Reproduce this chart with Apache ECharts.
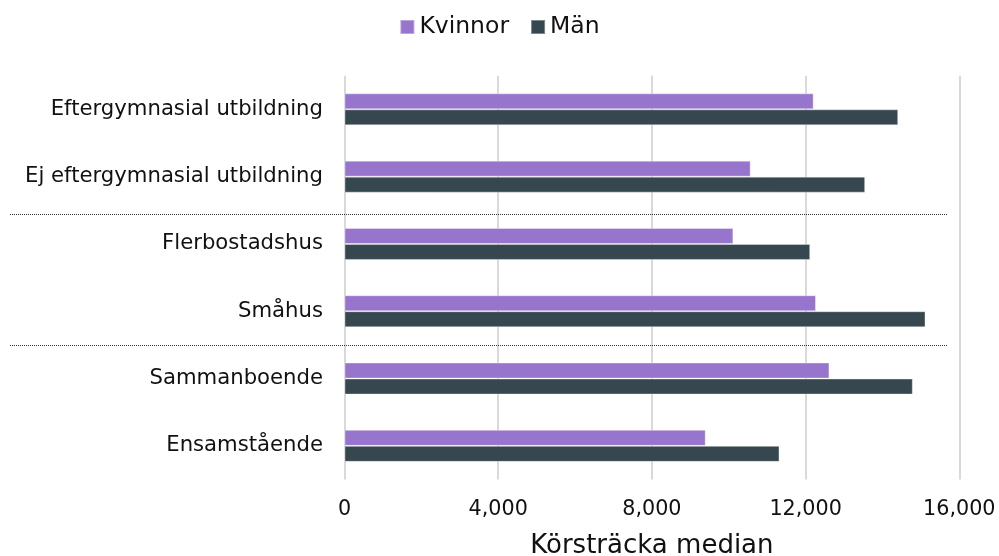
<!DOCTYPE html>
<html>
<head>
<meta charset="utf-8">
<script src="https://cdn.jsdelivr.net/npm/echarts@6/dist/echarts.min.js"></script>
<style>html,body{margin:0;padding:0;background:#fff;}#c{width:999px;height:556px;}</style>
</head>
<body>
<div id="c"></div>
<script>
const categories = ["Eftergymnasial utbildning", "Ej eftergymnasial utbildning", "Flerbostadshus", "Småhus", "Sammanboende", "Ensamstående"];
const kvinnor = [12210, 10570, 10120, 12270, 12620, 9400];
const man = [14410, 13550, 12120, 15120, 14790, 11320];
const seriesNames = ["Kvinnor", "Män"];
const xTicks = [0, 4000, 8000, 12000, 16000];
const axisName = "Körsträcka median";
const groupBreaks = [1, 3]; // separator after these category indices

const FONT = "DejaVu Sans, Verdana, sans-serif";
const chart = echarts.init(document.getElementById('c'), null, {renderer: 'canvas'});
const fmt = v => String(v).replace(/\B(?=(\d{3})+(?!\d))/g, ',');
chart.setOption({
  animation: false,
  textStyle: {fontFamily: FONT},
  legend: {
    top: 10, left: 'center',
    itemWidth: 14, itemHeight: 14, itemGap: 21,
    icon: 'rect',
    textStyle: {fontSize: 23.5, color: '#111', fontFamily: FONT},
    data: seriesNames
  },
  grid: {left: 344.5, right: 39.7, top: 75.7, bottom: 76.5, containLabel: false, outerBoundsMode: 'none'},
  xAxis: {
    type: 'value', min: xTicks[0], max: xTicks[xTicks.length-1], interval: 4000,
    axisLine: {show: false}, axisTick: {show: false},
    splitLine: {show: true, lineStyle: {color: '#d9d9d9', width: 2}},
    axisLabel: {fontSize: 20.7, color: '#111', margin: 19.5, formatter: fmt, fontFamily: FONT},
    name: axisName, nameLocation: 'middle', nameGap: 54,
    nameTextStyle: {fontSize: 26, color: '#111', fontFamily: FONT}
  },
  yAxis: {
    type: 'category', data: categories, inverse: true,
    axisLine: {show: false}, axisTick: {show: false},
    axisLabel: {fontSize: 21.2, color: '#111', margin: 21.5, fontFamily: FONT}
  },
  series: [
    {name: seriesNames[0], type: 'bar', data: kvinnor, barWidth: 16, barGap: '0%',
     itemStyle: {color: '#9775cc', borderColor: 'rgba(255,255,255,0.35)', borderWidth: 1}},
    {name: seriesNames[1], type: 'bar', data: man, barWidth: 16, barGap: '0%',
     itemStyle: {color: '#36474f', borderColor: 'rgba(255,255,255,0.35)', borderWidth: 1}}
  ]
});
// separator dotted lines between category groups
const c0 = chart.convertToPixel({yAxisIndex: 0}, categories[0]);
const c1 = chart.convertToPixel({yAxisIndex: 0}, categories[1]);
const band = c1 - c0;
const lines = groupBreaks.map((idx, i) => {
  const y = Math.round(chart.convertToPixel({yAxisIndex: 0}, categories[idx]) + band / 2 + (i === 0 ? 4 : 0)) + 0.5;
  return {type: 'line', shape: {x1: 10, y1: y, x2: 948, y2: y},
          style: {stroke: '#333', lineWidth: 1, lineDash: [1, 1]}, z: 10};
});
chart.setOption({graphic: lines});
</script>
</body>
</html>
